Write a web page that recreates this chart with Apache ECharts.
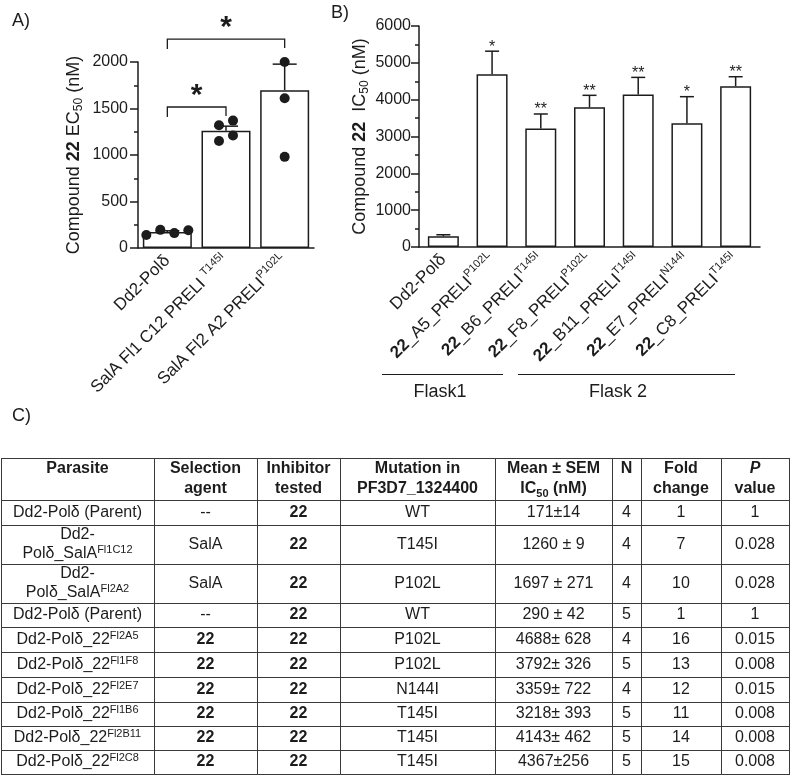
<!DOCTYPE html>
<html><head><meta charset="utf-8">
<script src="https://cdn.jsdelivr.net/npm/echarts@6/dist/echarts.min.js"></script>
<style>html,body{margin:0;padding:0;background:#fff}#c{width:790px;height:776px}</style>
</head><body><div id="c"></div>
<script>
// ---------- Panel A data ----------
const catsA = ['Dd2-Polδ', 'SalA Fl1 C12 PRELI ', 'SalA Fl2 A2 PRELI'];
const supA = ['', 'T145I', 'P102L'];
const meanA = [171, 1260, 1697];
const errA = [14, 50, 280];
const pointsA = [[140, 195, 160, 190], [1320, 1370, 1150, 1210], [2000, 1610, 980]];
const ticksA = [0, 500, 1000, 1500, 2000];
// [from category, to category, bracket level (nM), label]
const bracketsA = [[-0.14, 1, 1516, '*'], [0, 2, 2247, '*']];

// ---------- Panel B data ----------
const catsB = ['Dd2-Polδ', '22_A5_PRELI', '22_B6_PRELI', '22_F8_PRELI', '22_B11_PRELI', '22_E7_PRELI', '22_C8_PRELI'];
const supB = ['', 'P102L', 'T145I', 'P102L', 'T145I', 'N144I', 'T145I'];
const meanB = [290, 4688, 3218, 3792, 4143, 3359, 4367];
const semB = [42, 628, 393, 326, 462, 722, 256];
const starsB = ['', '*', '**', '**', '**', '*', '**'];
const ticksB = [0, 1000, 2000, 3000, 4000, 5000, 6000];
const flaskNames = ['Flask1', 'Flask 2'];

// ---------- Panel C table ----------
const tHeader = ['Parasite', 'Selection\nagent', 'Inhibitor\ntested', 'Mutation in\nPF3D7_1324400', 'Mean ± SEM\nIC{sub|50} (nM)', 'N', 'Fold\nchange', '{bi|P}\nvalue'];
const tParasite = ['Dd2-Polδ (Parent)', 'Dd2-\nPolδ_SalA', 'Dd2-\nPolδ_SalA', 'Dd2-Polδ (Parent)', 'Dd2-Polδ_22', 'Dd2-Polδ_22', 'Dd2-Polδ_22', 'Dd2-Polδ_22', 'Dd2-Polδ_22', 'Dd2-Polδ_22'];
const tParasiteSup = ['', 'Fl1C12', 'Fl2A2', '', 'Fl2A5', 'Fl1F8', 'Fl2E7', 'Fl1B6', 'Fl2B11', 'Fl2C8'];
const tAgent = ['--', 'SalA', 'SalA', '--', '22', '22', '22', '22', '22', '22'];
const tInhibitor = ['22', '22', '22', '22', '22', '22', '22', '22', '22', '22'];
const tMutation = ['WT', 'T145I', 'P102L', 'WT', 'P102L', 'P102L', 'N144I', 'T145I', 'T145I', 'T145I'];
const tMean = ['171±14', '1260 ± 9', '1697 ± 271', '290 ± 42', '4688± 628', '3792± 326', '3359± 722', '3218± 393', '4143± 462', '4367±256'];
const tN = ['4', '4', '4', '5', '4', '5', '4', '5', '5', '5'];
const tFold = ['1', '7', '10', '1', '16', '13', '12', '11', '14', '15'];
const tP = ['1', '0.028', '0.028', '1', '0.015', '0.008', '0.015', '0.008', '0.008', '0.008'];

// ---------- layout ----------
const FONT = "'Liberation Sans', Arial, Helvetica, sans-serif";
const INK = '#1c1c1c';
const colEdges = [1, 154, 257, 340, 495, 612, 641, 721, 789];
const rowEdges = [458, 500, 525, 564, 603, 627, 652, 677, 702, 726, 750, 774];
const flaskLayout = [{x1: 382, x2: 503, tx: 440}, {x1: 518, x2: 735, tx: 618}];

const chart = echarts.init(document.getElementById('c'), null, {renderer: 'canvas'});

function clusterOffsets(ys, thr, step) {
  const n = ys.length, parent = ys.map((_, i) => i);
  const find = i => parent[i] === i ? i : (parent[i] = find(parent[i]));
  for (let i = 0; i < n; i++) for (let j = i + 1; j < n; j++)
    if (Math.abs(ys[i] - ys[j]) < thr) parent[find(i)] = find(j);
  const groups = {};
  ys.forEach((_, i) => { const r = find(i); (groups[r] = groups[r] || []).push(i); });
  const off = new Array(n).fill(0);
  Object.values(groups).forEach(g => g.forEach((idx, k) => { off[idx] = (k - (g.length - 1) / 2) * step; }));
  return off;
}

const lineStyle = {color: INK, width: 1.5};
function yAxisCfg(grid, ticks, name, gap, margin) {
  return {
    gridIndex: grid, type: 'value', min: ticks[0], max: ticks[ticks.length - 1], interval: ticks[1] - ticks[0],
    axisLine: {show: true, lineStyle}, axisTick: {show: true, length: 8, lineStyle},
    minorTick: {show: true, splitNumber: 2, length: 4, lineStyle},
    splitLine: {show: false},
    axisLabel: {fontSize: 16, margin, color: INK, fontFamily: FONT, formatter: v => String(v)},
    name, nameLocation: 'middle', nameRotate: 90, nameGap: gap,
    nameTextStyle: {fontSize: 18, lineHeight: 22, color: INK, fontFamily: FONT,
      rich: {b: {fontWeight: 'bold', fontSize: 18, lineHeight: 22, fontFamily: FONT, color: INK},
             sub: {fontSize: 12, lineHeight: 12, verticalAlign: 'bottom', fontFamily: FONT, color: INK}}}
  };
}
function xAxisCfg(grid, cats, formatter) {
  return {
    gridIndex: grid, type: 'category', data: cats,
    axisLine: {lineStyle}, axisTick: {alignWithLabel: true, length: 7, lineStyle},
    axisLabel: {interval: 0, rotate: 45, margin: 10, fontSize: 17, lineHeight: 22, color: INK, fontFamily: FONT, formatter,
      rich: {sup: {fontSize: 11, lineHeight: 11, verticalAlign: 'top', fontFamily: FONT, color: INK},
             b: {fontSize: 17, lineHeight: 22, fontWeight: 'bold', fontFamily: FONT, color: INK}}}
  };
}

function errorSeries(xi, means, errs, capHalf, stars) {
  return {
    type: 'custom', xAxisIndex: xi, yAxisIndex: xi, clip: false, z: 4,
    data: means.map((m, i) => [i, m, m + errs[i]]), encode: {x: 0, y: [1, 2]},
    renderItem: (params, api) => {
      const i = params.dataIndex;
      const p0 = api.coord([api.value(0), api.value(1)]);
      const p1 = api.coord([api.value(0), api.value(2)]);
      const ch = [
        {type: 'line', shape: {x1: p0[0], y1: p0[1], x2: p1[0], y2: p1[1]}, style: {stroke: INK, lineWidth: 1.5}},
        {type: 'line', shape: {x1: p1[0] - capHalf, y1: p1[1], x2: p1[0] + capHalf, y2: p1[1]}, style: {stroke: INK, lineWidth: 1.5}}
      ];
      if (stars && stars[i]) ch.push({type: 'text', style: {text: stars[i], x: p1[0], y: p1[1] - 4, align: 'center', verticalAlign: 'middle', fontSize: 16, fontFamily: FONT, fill: INK}});
      return {type: 'group', children: ch};
    }
  };
}

const barStyle = {color: '#fff', borderColor: INK, borderWidth: 1.5};

// ---------- table graphics ----------
const graphics = [];
function txt(x, y, text, opts) {
  graphics.push({type: 'text', x, y, silent: true,
    style: Object.assign({text, fontFamily: FONT, fontSize: 16, fill: INK, align: 'center', verticalAlign: 'middle'}, opts || {})});
}
txt(12, 21, 'A)', {fontSize: 18, align: 'left'});
txt(331, 13, 'B)', {fontSize: 18, align: 'left'});
txt(12, 416, 'C)', {fontSize: 18, align: 'left'});
flaskLayout.forEach((f, k) => {
  graphics.push({type: 'line', silent: true, shape: {x1: f.x1, y1: 374.5, x2: f.x2, y2: 374.5}, style: {stroke: INK, lineWidth: 1.2}});
  txt(f.tx, 392, flaskNames[k], {fontSize: 18});
});
const bodyRich = {
  b: {fontWeight: 'bold', fontSize: 16, lineHeight: 19, fontFamily: FONT, fill: INK},
  sup: {fontSize: 11, lineHeight: 11, verticalAlign: 'top', fontFamily: FONT, fill: INK}
};
const headRich = {
  sub: {fontSize: 11, lineHeight: 11, verticalAlign: 'bottom', fontWeight: 'bold', fontFamily: FONT, fill: INK},
  bi: {fontSize: 16, lineHeight: 20, fontWeight: 'bold', fontStyle: 'italic', fontFamily: FONT, fill: INK}
};
const colCenter = c => (colEdges[c] + colEdges[c + 1]) / 2;
tHeader.forEach((h, c) => txt(colCenter(c), rowEdges[0] + 1, h, {fontWeight: 'bold', lineHeight: 20, verticalAlign: 'top', rich: headRich}));
const bold22 = s => s === '22' ? '{b|22}' : s;
const cols = [
  tParasite.map((p, r) => p + (tParasiteSup[r] ? '{sup|' + tParasiteSup[r] + '}' : '')),
  tAgent.map(bold22), tInhibitor.map(bold22), tMutation, tMean, tN, tFold, tP
];
for (let r = 0; r < tParasite.length; r++) {
  const yc = (rowEdges[r + 1] + rowEdges[r + 2]) / 2;
  cols.forEach((col, c) => txt(colCenter(c), yc, col[r], {lineHeight: 19, rich: bodyRich}));
}
rowEdges.forEach(y => graphics.push({type: 'line', silent: true, shape: {x1: colEdges[0], y1: y + 0.5, x2: colEdges[colEdges.length - 1], y2: y + 0.5}, style: {stroke: '#3a3a3a', lineWidth: 1}}));
colEdges.forEach(x => graphics.push({type: 'line', silent: true, shape: {x1: x + 0.5, y1: rowEdges[0], x2: x + 0.5, y2: rowEdges[rowEdges.length - 1] + 1}, style: {stroke: '#3a3a3a', lineWidth: 1}}));

const option = {
  backgroundColor: '#fff',
  animation: false,
  textStyle: {fontFamily: FONT, color: INK},
  grid: [
    {left: 138, top: 62, width: 176, height: 186, containLabel: false, outerBoundsMode: 'none'},
    {left: 419, top: 26, width: 341, height: 221, containLabel: false, outerBoundsMode: 'none'}
  ],
  xAxis: [
    xAxisCfg(0, catsA, (v, i) => v + (supA[i] ? '{sup|' + supA[i] + '}' : '')),
    xAxisCfg(1, catsB, (v, i) => v.replace(/^22/, '{b|22}') + (supB[i] ? '{sup|' + supB[i] + '}' : ''))
  ],
  yAxis: [
    yAxisCfg(0, ticksA, 'Compound {b|22} EC{sub|50} (nM)', 53, 10),
    yAxisCfg(1, ticksB, 'Compound {b|22}  IC{sub|50} (nM)', 48, 8)
  ],
  series: [
    {type: 'bar', xAxisIndex: 0, yAxisIndex: 0, data: meanA, barWidth: 49, itemStyle: barStyle, z: 2},
    errorSeries(0, meanA, errA, 12, null),
    {
      type: 'custom', xAxisIndex: 0, yAxisIndex: 0, clip: false, z: 5,
      data: pointsA.map((pts, i) => [i, pts[0]]), encode: {x: 0, y: 1},
      renderItem: (params, api) => {
        const i = params.dataIndex;
        const pts = pointsA[i].map(v => api.coord([i, v]));
        const off = clusterOffsets(pts.map(p => p[1]), 9, 14);
        return {type: 'group', children: pts.map((p, k) => ({type: 'circle', shape: {cx: p[0] + off[k], cy: p[1], r: 5}, style: {fill: INK}}))};
      }
    },
    {
      type: 'custom', xAxisIndex: 0, yAxisIndex: 0, clip: false, z: 5,
      data: bracketsA.map(b => [b[0], b[2]]), encode: {x: 0, y: 1},
      renderItem: (params, api) => {
        const b = bracketsA[params.dataIndex];
        const pl = api.coord([b[0], b[2]]), pr = api.coord([b[1], b[2]]);
        const y = pl[1];
        return {type: 'group', children: [
          {type: 'polyline', shape: {points: [[pl[0], y + 10], [pl[0], y], [pr[0], y], [pr[0], y + 9]]}, style: {stroke: INK, lineWidth: 1.3, fill: null}},
          {type: 'text', style: {text: b[3], x: (pl[0] + pr[0]) / 2, y: y - 11, align: 'center', verticalAlign: 'middle', fontSize: 30, fontWeight: 'bold', fontFamily: FONT, fill: INK}}
        ]};
      }
    },
    {type: 'bar', xAxisIndex: 1, yAxisIndex: 1, data: meanB, barWidth: 31, itemStyle: barStyle, z: 2},
    errorSeries(1, meanB, semB, 7, starsB)
  ],
  graphic: graphics
};
chart.setOption(option);
</script></body></html>
